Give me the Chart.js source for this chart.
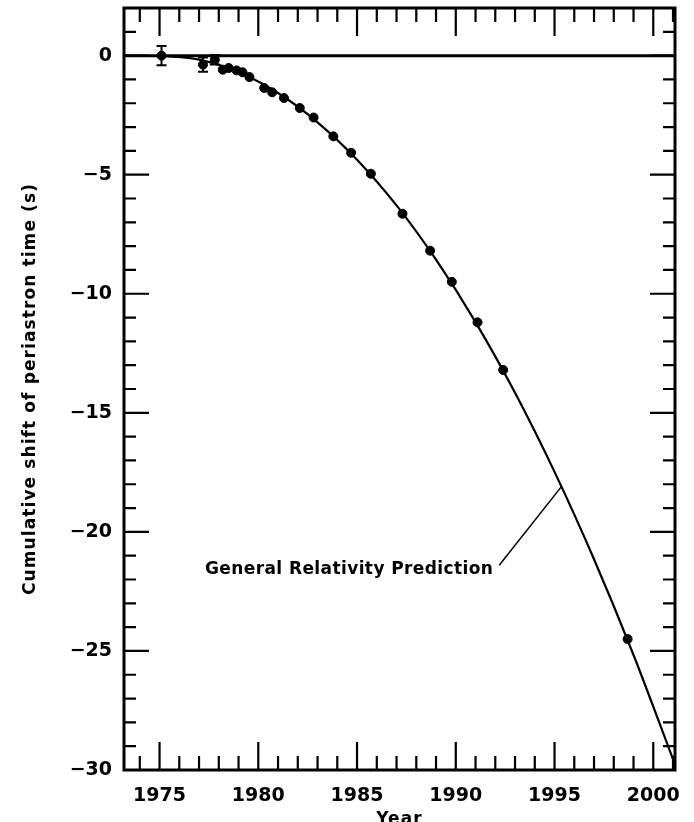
<!DOCTYPE html>
<html>
<head>
<meta charset="utf-8">
<script src="https://cdn.jsdelivr.net/npm/chart.js@4/dist/chart.umd.min.js"></script>
<style>
    html, body { margin: 0; padding: 0; background: #fff; }
</style>
</head>
<body>
<canvas id="periastron" width="694" height="822"></canvas>
<script>
// measured periastron shifts (s) by epoch
var obsYears = [1975.1, 1977.2, 1977.8, 1978.2, 1978.5, 1978.9, 1979.2, 1979.55, 1980.3, 1980.7, 1981.3,
                1982.1, 1982.8, 1983.8, 1984.7, 1985.7, 1987.3, 1988.7, 1989.8, 1991.1, 1992.4, 1998.7];
var obsShift = [0.0, -0.38, -0.17, -0.59, -0.52, -0.62, -0.7, -0.9, -1.36, -1.54, -1.78,
                -2.2, -2.6, -3.39, -4.08, -4.96, -6.64, -8.19, -9.5, -11.2, -13.2, -24.5];
var obsError = [0.4, 0.3, 0.2, 0, 0, 0, 0, 0, 0, 0, 0,
                0, 0, 0, 0, 0, 0, 0, 0, 0, 0, 0];

// general relativity prediction curve
var grYears = [1975, 1977, 1979, 1981, 1983, 1985, 1987, 1989, 1991, 1993, 1995, 1997, 1999, 2001.1];
var grShift = [0, -0.17, -0.70, -1.57, -2.80, -4.37, -6.29, -8.57, -11.19, -14.16, -17.48, -21.15, -25.17, -29.77];

var zeroYears = [1973.2, 2001.1];
var zeroShift = [0, 0];

var xRange = [1973.2, 2001.1];
var yRange = [-30, 2];

var label = "General Relativity Prediction";
var labelAt = [1977.3, -21.6];
var pointerFrom = [1992.2, -21.4];
var pointerTo = [1995.35, -18.1];

var fam = "'DejaVu Sans', 'Liberation Sans', sans-serif";

function pairs(xs, ys) {
    return xs.map(function (x, i) { return { x: x, y: ys[i] }; });
}

function spaced(scale, px) {
    if (scale._spaced) return;
    var orig = scale.drawTitle;
    scale.drawTitle = function () {
        this.ctx.save();
        this.ctx.letterSpacing = px;
        orig.apply(this, arguments);
        this.ctx.restore();
    };
    scale._spaced = true;
}

var frame = {
    id: 'frame',
    beforeDraw: function (chart) {
        spaced(chart.scales.x, '1.1px');
        spaced(chart.scales.y, '1.1px');
    },
    afterDatasetsDraw: function (chart) {
        var ctx = chart.ctx, y = chart.scales.y;
        var meta = chart.getDatasetMeta(0);
        ctx.save();
        ctx.strokeStyle = '#000';
        ctx.lineWidth = 2;
        meta.data.forEach(function (pt, i) {
            var e = obsError[i];
            if (!e) return;
            var top = y.getPixelForValue(obsShift[i] + e);
            var bot = y.getPixelForValue(obsShift[i] - e);
            ctx.beginPath();
            ctx.moveTo(pt.x, top); ctx.lineTo(pt.x, bot);
            ctx.moveTo(pt.x - 5, top); ctx.lineTo(pt.x + 5, top);
            ctx.moveTo(pt.x - 5, bot); ctx.lineTo(pt.x + 5, bot);
            ctx.stroke();
        });
        ctx.restore();
    },
    afterDraw: function (chart) {
        var ctx = chart.ctx, a = chart.chartArea;
        var x = chart.scales.x, y = chart.scales.y;
        ctx.save();
        ctx.strokeStyle = '#000';
        ctx.lineWidth = 2.2;
        x.ticks.forEach(function (t) {
            var px = x.getPixelForValue(t.value);
            var len = (Math.round(t.value) % 5 === 0) ? 28 : 14;
            ctx.beginPath();
            ctx.moveTo(px, a.bottom); ctx.lineTo(px, a.bottom - len);
            ctx.moveTo(px, a.top); ctx.lineTo(px, a.top + len);
            ctx.stroke();
        });
        y.ticks.forEach(function (t) {
            var py = y.getPixelForValue(t.value);
            var len = (Math.round(t.value) % 5 === 0) ? 25 : 12;
            ctx.beginPath();
            ctx.moveTo(a.left, py); ctx.lineTo(a.left + len, py);
            ctx.moveTo(a.right, py); ctx.lineTo(a.right - len, py);
            ctx.stroke();
        });
        ctx.lineWidth = 3;
        ctx.strokeRect(a.left, a.top, a.right - a.left, a.bottom - a.top);

        // annotation
        ctx.lineWidth = 1.5;
        ctx.beginPath();
        ctx.moveTo(x.getPixelForValue(pointerFrom[0]), y.getPixelForValue(pointerFrom[1]));
        ctx.lineTo(x.getPixelForValue(pointerTo[0]), y.getPixelForValue(pointerTo[1]));
        ctx.stroke();
        ctx.fillStyle = '#000';
        ctx.font = 'bold 17px ' + fam;
        ctx.letterSpacing = '0.4px';
        ctx.textBaseline = 'middle';
        ctx.textAlign = 'left';
        ctx.fillText(label, x.getPixelForValue(labelAt[0]), y.getPixelForValue(labelAt[1]));
        ctx.restore();
    }
};

var ctx = document.getElementById('periastron').getContext('2d');

var graphic = new Chart(ctx, {
    type: 'scatter',
    data: {
        datasets: [{
            label: "Observed",
            data: pairs(obsYears, obsShift),
            backgroundColor: '#000',
            borderColor: '#000',
            pointRadius: 4.5,
            pointHoverRadius: 4.5,
            showLine: false
        }, {
            label: "General Relativity Prediction",
            data: pairs(grYears, grShift),
            borderColor: '#000',
            borderWidth: 2.2,
            pointRadius: 0,
            showLine: true,
            cubicInterpolationMode: 'monotone'
        }, {
            label: "Zero",
            data: pairs(zeroYears, zeroShift),
            borderColor: '#000',
            borderWidth: 3,
            pointRadius: 0,
            showLine: true
        }]
    },
    options: {
        responsive: false,
        animation: false,
        devicePixelRatio: 1,
        layout: { padding: { top: 8, right: 19, left: 0, bottom: 0 } },
        plugins: {
            legend: { display: false },
            tooltip: { enabled: false }
        },
        scales: {
            x: {
                type: 'linear',
                min: xRange[0],
                max: xRange[1],
                grid: { display: false, drawTicks: false },
                border: { display: false },
                ticks: {
                    stepSize: 1,
                    maxTicksLimit: 100,
                    includeBounds: false,
                    autoSkip: false,
                    maxRotation: 0,
                    padding: 15,
                    color: '#000',
                    font: { family: fam, size: 19, weight: 'bold' },
                    callback: function (v) { return Math.round(v) % 5 === 0 ? String(v) : ''; }
                },
                title: {
                    display: true,
                    text: 'Year',
                    color: '#000',
                    font: { family: fam, size: 17, weight: 'bold' },
                    padding: { top: 0, bottom: -8 }
                },
                afterFit: function (s) { s.height = 52; s.paddingLeft = 0; s.paddingRight = 0; }
            },
            y: {
                type: 'linear',
                min: yRange[0],
                max: yRange[1],
                grid: { display: false, drawTicks: false },
                border: { display: false },
                ticks: {
                    stepSize: 1,
                    maxTicksLimit: 100,
                    includeBounds: false,
                    autoSkip: false,
                    padding: 12,
                    color: '#000',
                    font: { family: fam, size: 19, weight: 'bold' },
                    callback: function (v) {
                        if (v % 5 !== 0 || v > 0) return '';
                        return v < 0 ? '\u2212' + Math.abs(v) : '0';
                    }
                },
                title: {
                    display: true,
                    text: 'Cumulative shift of periastron time (s)',
                    color: '#000',
                    font: { family: fam, size: 17, weight: 'bold' },
                    padding: { top: 20, bottom: 0 }
                },
                afterFit: function (s) { s.width = 124; s.paddingTop = 0; s.paddingBottom = 0; }
            }
        }
    },
    plugins: [frame]
});
</script>
</body>
</html>
